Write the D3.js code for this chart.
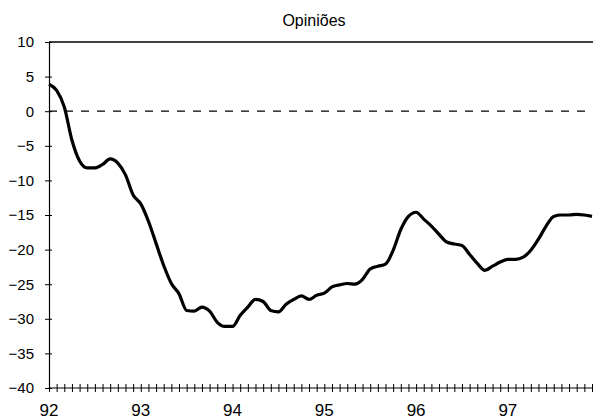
<!DOCTYPE html>
<meta charset="utf-8">
<style>
body { margin: 0; background: #fff; }
svg { font-family: "Liberation Sans", Arial, sans-serif; }
.axis path { stroke: #000; stroke-width: 1.2; }
.axis line { stroke: #000; stroke-width: 1; }
.axis text { fill: #000; }
.line { fill: none; stroke: #000; stroke-width: 3.2; stroke-linejoin: round; }
.zero { stroke: #000; stroke-width: 1.3; stroke-dasharray: 8 8; }
.frame { stroke: #000; stroke-width: 1.5; }
</style>
<body>
<script src="https://cdn.jsdelivr.net/npm/d3@7"></script>
<script>

var width = 593,
    height = 420;

// Monthly readings, Jan 92 .. Dec 97
var opinioes = [
   3.9,   3.0,   0.6,  -4.2,  -7.2,  -8.2,  -8.2,  -7.7,  -6.9,  -7.5,  -9.2, -12.1,
 -13.4, -15.9, -19.1, -22.3, -24.9, -26.4, -28.8, -28.9, -28.3, -28.9, -30.5, -31.1,
 -31.1, -29.5, -28.3, -27.2, -27.5, -28.8, -29.0, -27.9, -27.2, -26.7, -27.2, -26.6,
 -26.3, -25.4, -25.1, -24.9, -25.0, -24.3, -22.8, -22.4, -22.1, -20.1, -17.1, -15.2,
 -14.6, -15.6, -16.6, -17.8, -18.9, -19.2, -19.4, -20.7, -22.0, -23.0, -22.4, -21.8,
 -21.4, -21.4, -21.1, -20.1, -18.5, -16.6, -15.2, -15.0, -15.0, -14.9, -15.0, -15.2
];

var yearLabels = ["92", "93", "94", "95", "96", "97"];
var yTicks = [10, 5, 0, -5, -10, -15, -20, -25, -30, -35, -40];
var title = "Opiniões";

var x = d3.scaleLinear()
    .domain([0, opinioes.length - 1])
    .range([49, 592]);

var y = d3.scaleLinear()
    .domain([-40, 10])
    .range([388, 42]);

var svg = d3.select("body").append("svg")
    .attr("width", width)
    .attr("height", height);

svg.append("text")
    .attr("x", 314)
    .attr("y", 26)
    .attr("text-anchor", "middle")
    .style("font-size", "16px")
    .text(title);

// top frame line
svg.append("line")
    .attr("class", "frame")
    .attr("x1", x(0)).attr("x2", width)
    .attr("y1", y(10)).attr("y2", y(10));

// zero reference
svg.append("line")
    .attr("class", "zero")
    .attr("x1", x(0)).attr("x2", width)
    .attr("y1", y(0)).attr("y2", y(0));

// y axis: ticks cross the line
svg.append("g")
    .attr("class", "axis")
    .attr("transform", "translate(" + x(0) + ",0)")
    .call(d3.axisLeft(y).tickValues(yTicks).tickSizeInner(4).tickSizeOuter(0).tickPadding(11))
    .call(function(g) { g.selectAll("text").style("font-size", "15px"); });

svg.append("g")
    .attr("class", "axis")
    .attr("transform", "translate(" + x(0) + ",0)")
    .call(d3.axisRight(y).tickValues(yTicks).tickSizeInner(3).tickSizeOuter(0).tickFormat(""))
    .call(function(g) { g.select(".domain").remove(); });

// x axis: monthly ticks crossing the base line
var months = d3.range(opinioes.length);

svg.append("g")
    .attr("class", "axis")
    .attr("transform", "translate(0," + y(-40) + ")")
    .call(d3.axisBottom(x).tickValues(months).tickSizeInner(4).tickSizeOuter(0).tickFormat(""))
    .call(function(g) { g.select(".domain").attr("d", "M" + x(0) + ",0H" + width); });

svg.append("g")
    .attr("class", "axis")
    .attr("transform", "translate(0," + y(-40) + ")")
    .call(d3.axisTop(x).tickValues(months).tickSizeInner(4).tickSizeOuter(0).tickFormat(""))
    .call(function(g) { g.select(".domain").remove(); });

svg.selectAll(".year")
    .data(yearLabels)
  .enter().append("text")
    .attr("class", "year")
    .attr("x", function(d, i) { return x(i * 12); })
    .attr("y", 416)
    .attr("text-anchor", "middle")
    .style("font-size", "17px")
    .text(function(d) { return d; });

var line = d3.line()
    .x(function(d, i) { return x(i); })
    .y(function(d) { return y(d); })
    .curve(d3.curveMonotoneX);

svg.append("path")
    .datum(opinioes)
    .attr("class", "line")
    .attr("d", line);

</script>
